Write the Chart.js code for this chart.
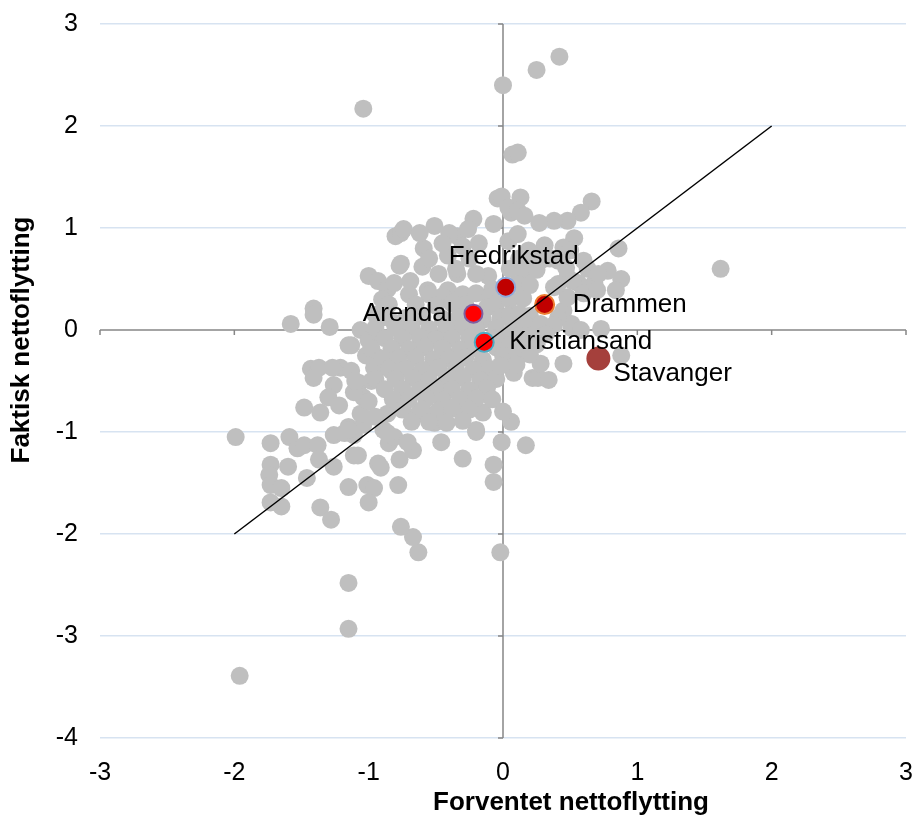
<!DOCTYPE html>
<html>
<head>
<meta charset="utf-8">
<script src="https://cdn.jsdelivr.net/npm/chart.js@4.4.1/dist/chart.umd.min.js"></script>
<style>
  html, body { margin: 0; padding: 0; background: #ffffff; }
  #wrap { width: 914px; height: 819px; }
</style>
</head>
<body>
<div id="wrap"><canvas id="c" width="914" height="819"></canvas></div>
<script>
// ---------- data ----------
const xTicks = [-3, -2, -1, 0, 1, 2, 3];
const yTicks = [-4, -3, -2, -1, 0, 1, 2, 3];
const xTitle = 'Forventet nettoflytting';
const yTitle = 'Faktisk nettoflytting';

// municipalities (gray): [expected, actual]
const grayPoints = [
  [-1.04,2.17],[0.00,2.40],[0.25,2.55],[0.42,2.68],[0.07,1.72],[0.11,1.74],[1.62,0.60],
  [-1.96,-3.39],[-1.15,-2.93],[-1.15,-2.48],[-0.02,-2.18],[-0.63,-2.18],[-0.67,-2.03],[-0.76,-1.93],
  [-1.99,-1.05],[-1.73,-1.11],[-1.59,-1.05],[-1.53,-1.16],[-1.48,-1.13],[-1.38,-1.13],[-1.37,-1.27],
  [-1.73,-1.32],[-1.60,-1.34],[-1.74,-1.42],[-1.73,-1.52],[-1.65,-1.55],[-1.73,-1.69],[-1.65,-1.73],
  [-1.46,-1.45],[-1.36,-1.74],[-1.28,-1.86],[-1.26,-1.34],[-1.15,-1.54],[-1.11,-1.23],[-1.01,-1.52],
  [-0.96,-1.55],[-1.00,-1.69],[-0.93,-1.31],[-0.91,-1.35],[-0.85,-1.11],[-0.78,-1.52],[-0.77,-1.27],
  [-0.67,-1.18],[-0.30,-1.26],[-0.20,-1.00],[-0.07,-1.32],[-0.07,-1.49],[-0.01,-1.10],[0.17,-1.13],
  [-0.46,-1.10],[0.06,-0.90],[-1.26,-1.03],[-1.18,-1.01],[-1.11,-1.03],[0.22,-0.47],[0.00,-0.80],
  [-0.15,-0.81],[0.08,-0.42],[-1.43,-0.38],[-1.37,-0.37],[-1.41,-0.47],[-1.48,-0.76],[-1.36,-0.81],
  [-1.21,-0.37],[-1.13,-0.15],[-1.26,-0.54],[-1.30,-0.66],[-1.22,-0.74],[-1.15,-0.95],[-1.08,-1.23],
  [-1.07,-0.52],[-1.04,-0.66],[-0.93,-0.27],[-0.83,-0.40],[-0.89,-0.98],[-0.81,-1.05],
  [-1.58,0.06],[-1.41,0.21],[-1.41,0.15],[-1.29,0.03],[-1.00,0.53],[-0.93,0.48],[-0.86,0.40],
  [-0.80,0.92],[-0.77,0.63],[-0.81,0.07],[-1.06,0.00],[-0.76,0.95],[-0.74,0.99],[-0.51,1.02],
  [-0.22,1.09],[-0.04,1.29],[0.06,1.15],[-0.59,0.80],[-0.41,0.73],[-0.34,0.92],[-0.26,0.99],
  [-0.40,0.95],[-0.11,0.53],[-0.76,0.65],[-0.81,0.46],[-0.56,0.39],[-0.41,0.39],[-0.34,0.55],
  [-1.15,-0.15],[-1.27,-0.37],[-1.13,-0.40],[-0.01,1.31],[0.13,1.30],[0.04,1.20],[0.11,1.17],
  [-0.07,1.04],[-0.69,0.48],[-0.35,0.60],[0.16,0.55],
  [0.66,1.26],[0.58,1.15],[0.48,1.07],[0.38,1.07],[0.27,1.05],[0.16,1.12],[0.53,0.90],[0.86,0.80],
  [0.31,0.83],[0.04,0.87],[0.48,0.52],[0.63,0.60],[0.78,0.58],[0.88,0.50],[0.84,0.39],[0.68,0.46],
  [0.56,0.46],[0.88,-0.25],[0.45,-0.33],[0.26,-0.47],[0.34,-0.49],[-0.20,-0.98],
  [0.45,0.81],[0.71,0.55],[0.52,0.48],[0.60,0.36],[0.47,0.61],[0.38,0.42],[0.45,0.19],
  [0.73,0.01],[0.51,0.02],[-1.11,-0.61],[-0.96,-0.37],[-1.04,-0.93],[-1.15,-0.98],
  [-0.86,-1.01],[-0.71,-1.10],[-0.51,-0.91],[-0.63,-0.82],[-0.86,-0.82],[-1.06,-0.82],[-0.34,-0.76],
  [0.11,0.94],[0.19,0.78],[0.50,0.78],[0.41,0.68],[0.60,0.68],[0.28,0.68],[0.13,0.65],[0.70,0.39],
  [0.48,0.32],[0.41,0.45],[0.51,0.06],[0.58,0.00],[0.41,0.12],[0.16,0.12],
  [0.16,-0.23],[0.28,-0.33],
  [-0.60,0.62],[-0.48,0.55],[-0.25,0.70],[-0.18,0.85],[-0.30,0.82],[-0.45,0.85],[-0.62,0.95],
  [-0.20,0.55],[-0.08,0.40],[-0.55,0.70],
  [-1.00,-0.10],[-0.95,0.15],[-1.02,-0.25],[-0.90,0.30],[-1.00,-0.70],[-0.95,-0.85],[-1.10,-0.50],[-0.98,-0.50],
  // dense core
  [-0.70,0.35],[-0.55,0.35],[-0.45,0.33],[-0.30,0.35],[-0.20,0.36],[-0.10,0.32],
  [-0.85,0.25],[-0.65,0.25],[-0.50,0.24],[-0.38,0.26],[-0.28,0.25],[-0.12,0.22],[-0.05,0.26],
  [-0.90,0.12],[-0.72,0.12],[-0.60,0.13],[-0.45,0.11],[-0.33,0.12],[-0.15,0.10],[-0.02,0.12],
  [-0.95,0.02],[-0.80,0.02],[-0.68,0.03],[-0.55,0.01],[-0.42,0.02],[-0.30,0.03],[-0.20,0.01],[-0.05,0.02],
  [-0.88,-0.08],[-0.75,-0.08],[-0.62,-0.07],[-0.50,-0.09],[-0.38,-0.08],[-0.25,-0.07],[-0.08,-0.08],
  [-0.98,-0.18],[-0.83,-0.18],[-0.70,-0.19],[-0.58,-0.17],[-0.45,-0.18],[-0.32,-0.19],[-0.20,-0.18],[-0.05,-0.17],
  [-0.90,-0.28],[-0.78,-0.28],[-0.65,-0.27],[-0.52,-0.29],[-0.40,-0.28],[-0.28,-0.27],[-0.15,-0.29],
  [-0.85,-0.38],[-0.72,-0.38],[-0.60,-0.39],[-0.48,-0.37],[-0.35,-0.38],[-0.22,-0.39],[-0.10,-0.38],
  [-0.95,-0.48],[-0.80,-0.48],[-0.67,-0.47],[-0.55,-0.49],[-0.42,-0.48],[-0.30,-0.47],[-0.17,-0.49],[-0.05,-0.48],
  [-0.88,-0.58],[-0.75,-0.58],[-0.62,-0.59],[-0.50,-0.57],[-0.38,-0.58],[-0.25,-0.59],[-0.12,-0.57],
  [-0.82,-0.68],[-0.70,-0.68],[-0.57,-0.67],[-0.45,-0.69],[-0.32,-0.68],[-0.20,-0.67],[-0.08,-0.68],
  [-0.75,-0.78],[-0.60,-0.78],[-0.48,-0.79],[-0.38,-0.77],[-0.25,-0.78],
  [-0.68,-0.90],[-0.55,-0.90],[-0.42,-0.91],[-0.30,-0.89],
  [0.05,0.30],[0.15,0.31],[0.05,0.15],[0.12,0.16],[0.20,0.14],
  [0.08,0.05],[0.18,0.04],[0.28,0.06],[0.38,0.05],
  [0.03,-0.05],[0.12,-0.06],[0.22,-0.05],[0.32,-0.04],
  [0.05,-0.15],[0.15,-0.16],[0.25,-0.14],
  [0.00,-0.25],[0.10,-0.26],[0.20,-0.24],[-0.02,-0.35],[0.10,-0.34],
  [0.10,0.45],[0.20,0.44],[0.05,0.60],[0.15,0.61],[0.25,0.59],[0.12,0.70],[0.22,0.71],[0.35,0.70]
];

// highlighted cities
const cityNames = ['Fredrikstad', 'Arendal', 'Kristiansand', 'Drammen', 'Stavanger'];
const cityX = [0.02, -0.22, -0.14, 0.31, 0.71];
const cityY = [0.42, 0.16, -0.12, 0.25, -0.28];

// 45-degree reference line
const refLineX = [-2, 2];
const refLineY = [-2, 2];

// ---------- styles ----------
const cityFill   = ['#C00000', '#FF0000', '#FF0000', '#C00000', '#A5403C'];
const cityBorder = ['#8FAADC', '#7F5FA0', '#4BACC6', '#ED7D31', '#A5403C'];
const cityRadius = [9.5, 9, 9.5, 9.5, 11];
// label placement: [dx, dy, align]
const labelPlace = [[8, -30, 'center'], [-21, 0, 'right'], [25, 0, 'left'], [28, 0, 'left'], [15, 15, 'left']];

const FONT = "'Liberation Sans', Arial, sans-serif";

const zeroAxes = {
  id: 'zeroAxes',
  beforeDatasetsDraw(chart) {
    const { ctx, scales: { x, y } } = chart;
    const x0 = x.getPixelForValue(0), y0 = y.getPixelForValue(0);
    ctx.save();
    ctx.strokeStyle = '#868686';
    ctx.lineWidth = 1.5;
    ctx.beginPath();
    ctx.moveTo(x.left, y0); ctx.lineTo(x.right, y0);
    ctx.moveTo(x0, y.top); ctx.lineTo(x0, y.bottom);
    xTicks.forEach(v => { const p = x.getPixelForValue(v); ctx.moveTo(p, y0); ctx.lineTo(p, y0 + 5); });
    yTicks.forEach(v => { const p = y.getPixelForValue(v); ctx.moveTo(x0 - 5, p); ctx.lineTo(x0, p); });
    ctx.stroke();
    ctx.restore();
  }
};

const textPlugin = {
  id: 'textPlugin',
  afterDatasetsDraw(chart) {
    const { ctx } = chart;
    const meta = chart.getDatasetMeta(1);
    ctx.save();
    ctx.fillStyle = '#000000';
    ctx.font = '26px ' + FONT;
    ctx.textBaseline = 'middle';
    meta.data.forEach((pt, i) => {
      const [dx, dy, al] = labelPlace[i];
      ctx.textAlign = al;
      ctx.fillText(cityNames[i], pt.x + dx, pt.y + dy);
    });
    // axis titles
    ctx.font = 'bold 26px ' + FONT;
    ctx.textAlign = 'center';
    ctx.fillText(xTitle, 571, 803);
    ctx.translate(22, 340);
    ctx.rotate(-Math.PI / 2);
    ctx.fillText(yTitle, 0, 0);
    ctx.restore();
  }
};

new Chart(document.getElementById('c'), {
  type: 'scatter',
  data: {
    datasets: [
      {
        label: 'ref',
        data: refLineX.map((v, i) => ({ x: v, y: refLineY[i] })),
        showLine: true,
        borderColor: '#000000',
        borderWidth: 1.5,
        pointRadius: 0,
        order: 0
      },
      {
        label: 'cities',
        data: cityX.map((v, i) => ({ x: v, y: cityY[i] })),
        pointBackgroundColor: cityFill,
        pointBorderColor: cityBorder,
        pointBorderWidth: 2,
        pointRadius: cityRadius,
        order: 1
      },
      {
        label: 'kommuner',
        data: grayPoints.map(p => ({ x: p[0], y: p[1] })),
        pointBackgroundColor: '#BFBFBF',
        pointBorderColor: '#BFBFBF',
        pointBorderWidth: 0,
        pointRadius: 9,
        order: 2
      }
    ]
  },
  options: {
    responsive: false,
    animation: false,
    layout: { autoPadding: false, padding: { top: 24, right: 8, left: 0, bottom: 0 } },
    plugins: { legend: { display: false }, tooltip: { enabled: false } },
    scales: {
      x: {
        type: 'linear', min: -3, max: 3,
        afterBuildTicks: s => { s.ticks = xTicks.map(v => ({ value: v })); },
        afterFit: s => { s.height = 81; s.paddingLeft = 0; s.paddingRight = 0; },
        grid: { display: false, drawTicks: false },
        border: { display: false },
        ticks: { color: '#000000', font: { family: FONT, size: 25 }, padding: 20, maxRotation: 0 }
      },
      y: {
        type: 'linear', min: -4, max: 3,
        afterBuildTicks: s => { s.ticks = yTicks.map(v => ({ value: v })); },
        afterFit: s => { s.width = 100; s.paddingTop = 0; s.paddingBottom = 0; },
        grid: { drawTicks: false, lineWidth: 1.5, color: c => (c.tick && c.tick.value === 0) ? 'rgba(0,0,0,0)' : '#D7E3F1' },
        border: { display: false },
        ticks: { color: '#000000', font: { family: FONT, size: 25 }, padding: 22 }
      }
    }
  },
  plugins: [zeroAxes, textPlugin]
});
</script>
</body>
</html>
